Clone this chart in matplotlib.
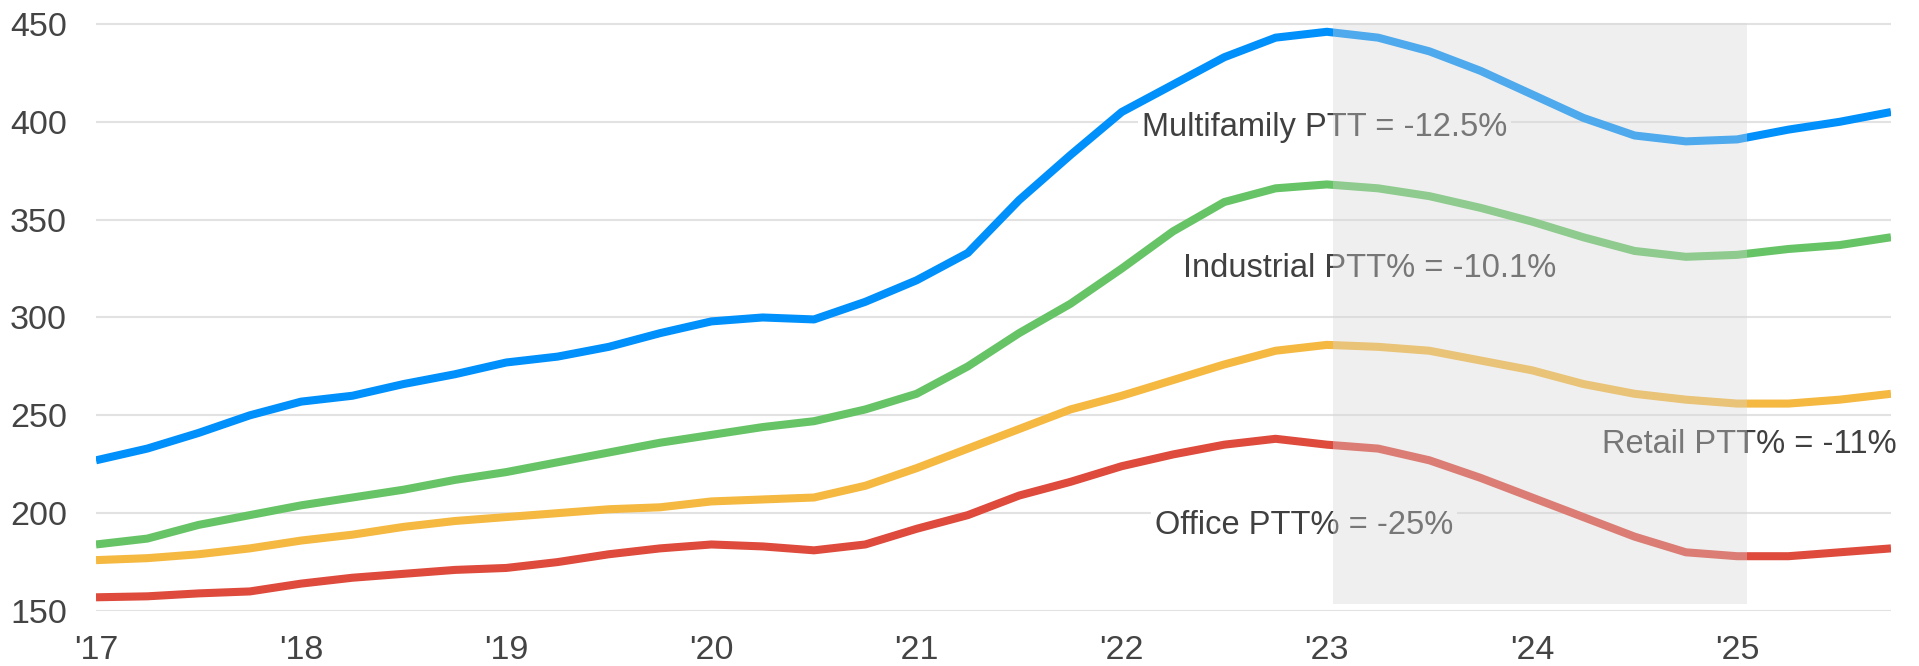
import numpy as np
import matplotlib
matplotlib.use("Agg")
import matplotlib.pyplot as plt

plt.rcParams["font.family"] = ["Liberation Sans", "DejaVu Sans"]

# quarterly index values, 2017Q1 .. 2025Q4
multifamily = [227, 233, 241, 250, 257, 260, 266, 271, 277, 280, 285, 292,
               298, 300, 299, 308, 319, 333, 360, 383, 405, 419, 433, 443,
               446, 443, 436, 426, 414, 402, 393, 390, 391, 396, 400, 405]
industrial = [184, 187, 194, 199, 204, 208, 212, 217, 221, 226, 231, 236,
              240, 244, 247, 253, 261, 275, 292, 307, 325, 344, 359, 366,
              368, 366, 362, 356, 349, 341, 334, 331, 332, 335, 337, 341]
retail = [176, 177, 179, 182, 186, 189, 193, 196, 198, 200, 202, 203,
          206, 207, 208, 214, 223, 233, 243, 253, 260, 268, 276, 283,
          286, 285, 283, 278, 273, 266, 261, 258, 256, 256, 258, 261]
office = [157, 157.5, 159, 160, 164, 167, 169, 171, 172, 175, 179, 182,
          184, 183, 181, 184, 192, 199, 209, 216, 224, 230, 235, 238,
          235, 233, 227, 218, 208, 198, 188, 180, 178, 178, 180, 182]
year_labels = ["'17", "'18", "'19", "'20", "'21", "'22", "'23", "'24", "'25"]
yticks = [150, 200, 250, 300, 350, 400, 450]

notes = [("Multifamily PTT = -12.5%", 5.10, 397),
         ("Industrial PTT% = -10.1%", 5.30, 325),
         ("Retail PTT% = -11%", 7.34, 235),
         ("Office PTT% = -25%", 5.16, 193.5)]

x = np.arange(len(multifamily)) / 4.0

W, H = 1919, 666
fig = plt.figure(figsize=(W / 100, H / 100), dpi=100)
ax = fig.add_axes([96 / W, (H - 611) / H, (1891 - 96) / W, (611 - 22) / H])

for y, c in [(multifamily, "#0090fb"), (industrial, "#66c466"),
             (retail, "#f5b840"), (office, "#de4a3c")]:
    ax.plot(x, y, color=c, lw=5.8, solid_joinstyle="round", solid_capstyle="butt", zorder=3)

for txt, tx, ty in notes:
    ax.text(tx, ty, txt, fontsize=23.5, color="#404040", va="center", ha="left", zorder=4,
            bbox=dict(boxstyle="square,pad=0.12", fc="white", ec="none"))

# forecast shading drawn over lines and labels
ax.fill_between([6.03, 8.05], 153.5, 450.7, color=(214 / 255,) * 3, alpha=0.37,
                lw=0, zorder=5)

ax.set_xlim(0, x[-1])
ax.set_ylim(150, 451)
ax.set_xticks(range(9))
ax.set_xticklabels(year_labels)
ax.set_yticks(yticks)
ax.grid(axis="y", color="#e2e2e2", lw=1.5, zorder=0)
ax.set_axisbelow(True)
for s in ax.spines.values():
    s.set_visible(False)
ax.tick_params(axis="both", length=0, labelsize=24.5, labelcolor="#444444")
ax.tick_params(axis="y", pad=21)
ax.tick_params(axis="x", pad=17)

fig.savefig("out.png", dpi=100)
